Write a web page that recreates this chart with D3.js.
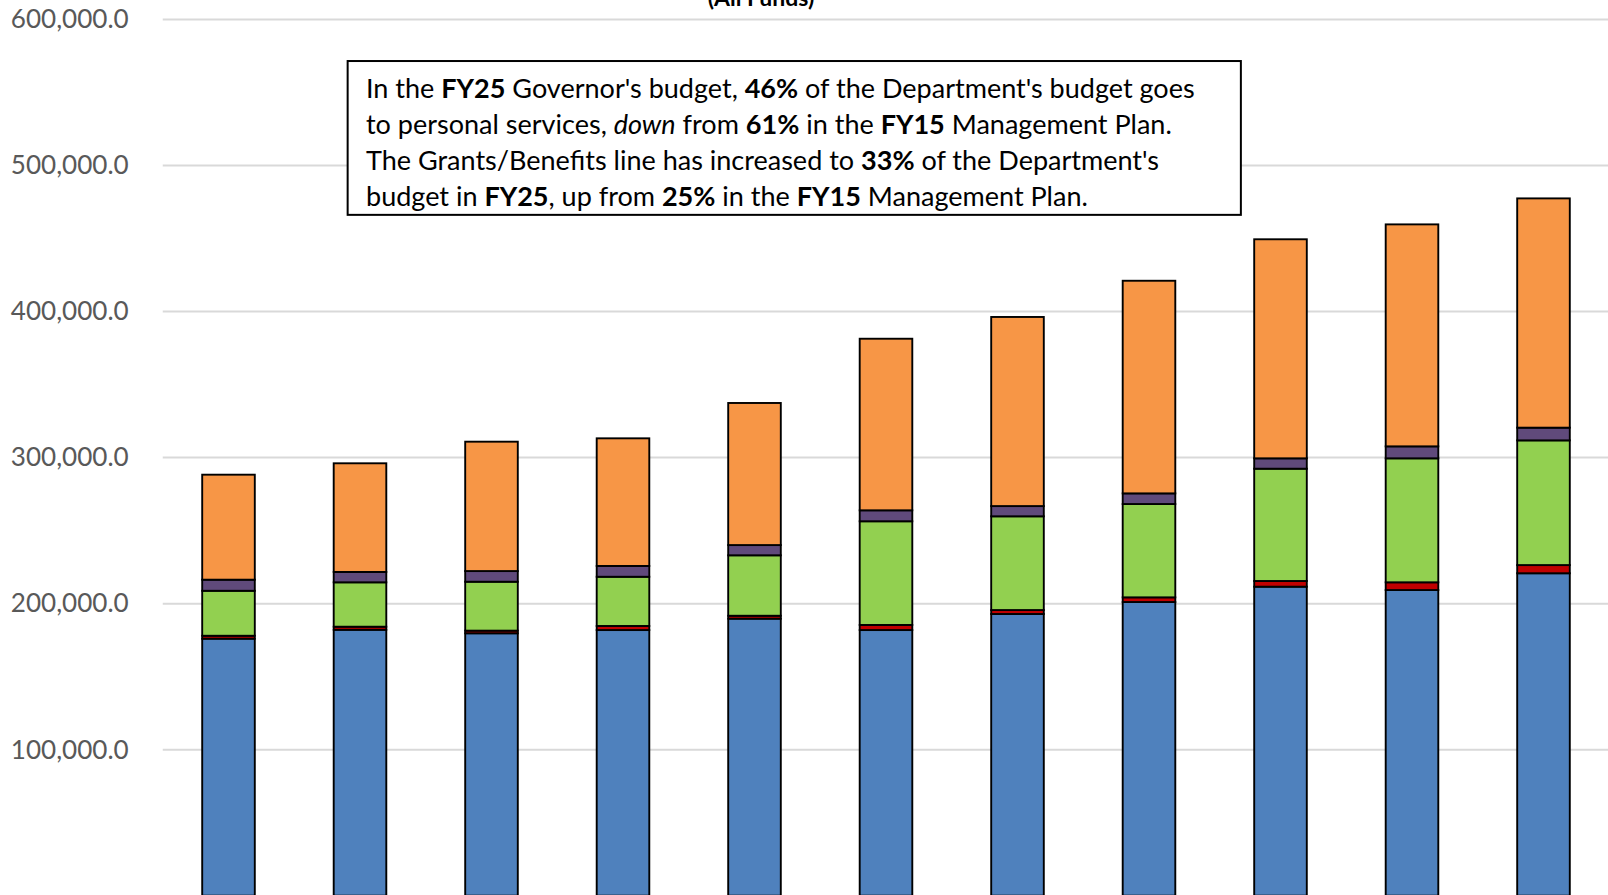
<!DOCTYPE html>
<html>
<head>
<meta charset="utf-8">
<script src="https://cdn.jsdelivr.net/npm/d3@7"></script>
<style>
  html, body { margin: 0; padding: 0; background: #fff; overflow: hidden; }
  svg { display: block; }
</style>
</head>
<body>
<svg id="chart" width="1608" height="895"></svg>
<script>
// Department budget by expenditure type, thousands of dollars (all funds)
const years = ["FY15", "FY16", "FY17", "FY18", "FY19", "FY20", "FY21", "FY22", "FY23", "FY24", "FY25"];
const personalServices = [176.0, 182.1, 179.7, 181.9, 189.7, 181.9, 192.9, 201.1, 211.6, 209.3, 220.8];
const equipment        = [2.0, 2.1, 1.8, 2.8, 2.0, 3.5, 2.7, 3.2, 3.9, 5.3, 5.6];
const operating        = [30.8, 30.4, 33.5, 33.7, 41.4, 71.0, 64.2, 63.9, 76.9, 84.9, 85.4];
const otherCosts       = [7.6, 7.1, 7.3, 7.4, 7.0, 7.5, 7.0, 7.3, 7.1, 8.2, 8.7];
const grantsBenefits   = [71.9, 74.4, 88.6, 87.4, 97.3, 117.5, 129.5, 145.6, 150.0, 152.0, 157.0];
const yTicks = [100000, 200000, 300000, 400000, 500000, 600000];

const seriesKeys = ["personalServices", "equipment", "operating", "otherCosts", "grantsBenefits"];
const seriesColors = ["#4F81BD", "#C00000", "#92D050", "#604A7B", "#F79646"];

const rows = years.map((y, i) => ({
  year: y,
  personalServices: personalServices[i] * 1000,
  equipment: equipment[i] * 1000,
  operating: operating[i] * 1000,
  otherCosts: otherCosts[i] * 1000,
  grantsBenefits: grantsBenefits[i] * 1000
}));

const svg = d3.select("#chart");
const plot = { left: 162.75, right: 1609.25, top: 19.5, bottom: 895.7 };

const x = d3.scaleBand()
  .domain(years)
  .range([plot.left, plot.right])
  .paddingInner(0.6)
  .paddingOuter(0.3);

const y = d3.scaleLinear()
  .domain([0, 600000])
  .range([plot.bottom, plot.top]);

// Horizontal gridlines
svg.append("g")
  .selectAll("line")
  .data(yTicks)
  .join("line")
  .attr("x1", plot.left)
  .attr("x2", 1608)
  .attr("y1", d => y(d))
  .attr("y2", d => y(d))
  .attr("stroke", "#D9D9D9")
  .attr("stroke-width", 2);

// Value axis labels
const yAxis = svg.append("g")
  .attr("transform", `translate(${plot.left - 34},0)`)
  .call(d3.axisLeft(y).tickValues(yTicks).tickSize(0).tickPadding(0).tickFormat(d3.format(",.1f")));
yAxis.select(".domain").remove();
yAxis.selectAll("text")
  .attr("fill", "#595959")
  .style("font-family", "Lato, 'Open Sans', sans-serif")
  .style("font-size", "25px");

// Stacked bars
const stack = d3.stack().keys(seriesKeys);
const layers = stack(rows);

svg.append("g")
  .selectAll("g")
  .data(layers)
  .join("g")
  .attr("fill", (d, i) => seriesColors[i])
  .selectAll("rect")
  .data(d => d)
  .join("rect")
  .attr("x", d => x(d.data.year))
  .attr("width", x.bandwidth())
  .attr("y", d => y(d[1]))
  .attr("height", d => y(d[0]) - y(d[1]))
  .attr("stroke", "#000")
  .attr("stroke-width", 1.9);

// Title (second line, top of the chart)
svg.append("text")
  .attr("x", 761)
  .attr("y", 6)
  .attr("text-anchor", "middle")
  .style("font-family", "Lato, 'Open Sans', sans-serif")
  .style("font-weight", "bold")
  .style("font-size", "23px")
  .attr("fill", "#000")
  .text("(All Funds)");

// Annotation box
const note = [
  [["In the ", ""], ["FY25", "b"], [" Governor's budget, ", ""], ["46%", "b"], [" of the Department's budget goes", ""]],
  [["to personal services, ", ""], ["down", "i"], [" from ", ""], ["61%", "b"], [" in the ", ""], ["FY15", "b"], [" Management Plan.", ""]],
  [["The Grants/Benefits line has increased to ", ""], ["33%", "b"], [" of the Department's", ""]],
  [["budget in ", ""], ["FY25", "b"], [", up from ", ""], ["25%", "b"], [" in the ", ""], ["FY15", "b"], [" Management Plan.", ""]]
];

const box = { x: 339, y: 60, w: 871, h: 150 };
svg.append("rect")
  .attr("x", box.x * 1608 / 1568)
  .attr("y", box.y * 1608 / 1568 - 0.5)
  .attr("width", box.w * 1608 / 1568)
  .attr("height", box.h * 1608 / 1568)
  .attr("fill", "#fff")
  .attr("stroke", "#000")
  .attr("stroke-width", 2);

const noteG = svg.append("g")
  .style("font-family", "Lato, 'Open Sans', sans-serif")
  .style("font-size", "24px")
  .attr("fill", "#000");

const lineTexts = note.map((segs, i) => {
  const t = noteG.append("text")
    .attr("x", 366)
    .attr("y", 98 + i * 35.9);
  segs.forEach(([s, st]) => {
    t.append("tspan")
      .style("font-weight", st === "b" ? "bold" : "normal")
      .style("font-style", st === "i" ? "italic" : "normal")
      .text(s);
  });
  return t;
});

// Fit the note text to the box width
const w0 = lineTexts[0].node().getComputedTextLength();
const noteSize = 24 * 829 / w0;
noteG.style("font-size", noteSize + "px");

// Fit axis labels to their slot width
const lab = yAxis.select("text").node();
if (lab) {
  const lw = lab.getComputedTextLength();
  yAxis.selectAll("text").style("font-size", (25 * 118 / lw) + "px");
}
</script>
</body>
</html>
